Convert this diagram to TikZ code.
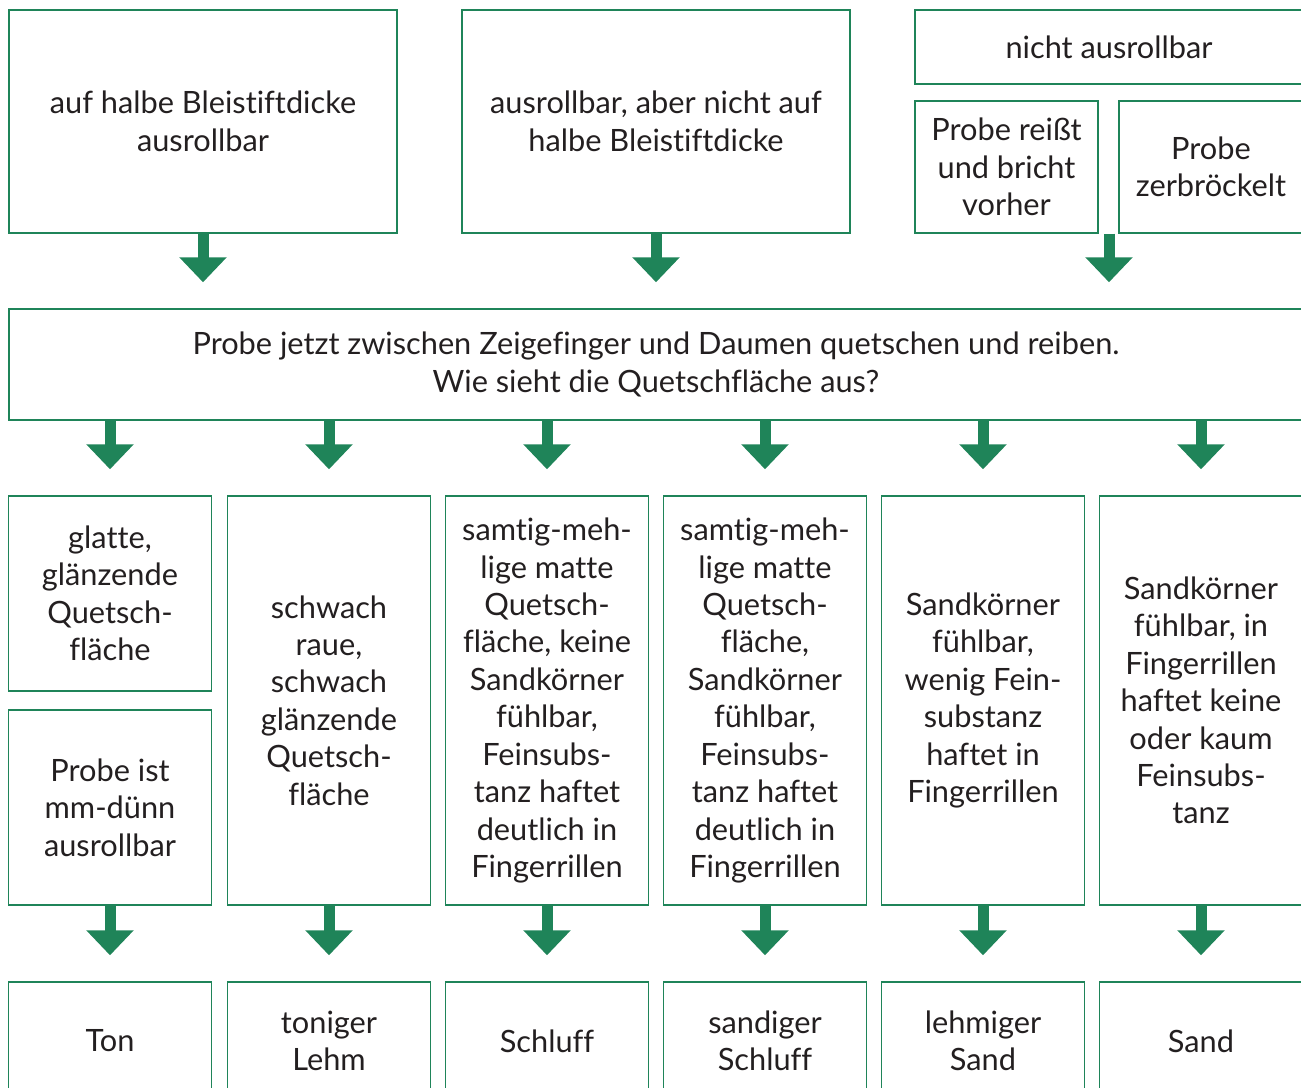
\documentclass[tikz,border=0pt]{standalone}
\usepackage{fontspec}
\setmainfont{Lato}[Ligatures=NoCommon]
\usetikzlibrary{arrows.meta}
\definecolor{soilgreen}{RGB}{31,132,89}
\definecolor{soiltext}{RGB}{35,31,32}
\tikzset{
  box/.style={rectangle, draw=soilgreen, line width=0.03cm, align=center, text=soiltext, inner sep=0pt, font=\fontsize{17.5}{21.3}\selectfont},
  bigarrow/.style={draw=soilgreen, line width=0.22cm, -{Triangle[width=0.92cm, length=0.5cm]}, shorten >=0.52cm}
}
\begin{document}
\begin{tikzpicture}[x=0.02cm, y=-0.02cm]
    \useasboundingbox (0,0) rectangle (1301,1088);
    \clip (0,0) rectangle (1301,1088);
    % first test
    \node (half) at (203, 121.5) [box, minimum width=7.76cm, minimum height=4.46cm] {auf halbe Bleistiftdicke\\ausrollbar};
    \node (notHalf) at (656, 121.5) [box, minimum width=7.76cm, minimum height=4.46cm] {ausrollbar, aber nicht auf\\halbe Bleistiftdicke};
    \node (noRoll) at (1109, 47) [box, minimum width=7.76cm, minimum height=1.48cm] {nicht ausrollbar};
    \node (tears) at (1006.5, 167) [box, minimum width=3.66cm, minimum height=2.64cm] {Probe reißt\\und bricht\\vorher};
    \node (crumbles) at (1211, 167) [box, minimum width=3.68cm, minimum height=2.64cm] {Probe\\zerbröckelt};
    % squeeze test
    \node (squeeze) at (656, 364.5) [box, minimum width=25.88cm, minimum height=2.22cm] {Probe jetzt zwischen Zeigefinger und Daumen quetschen und reiben.\\Wie sieht die Quetschfläche aus?};
    \node (smooth) at (110, 593.5) [box, minimum width=4.06cm, minimum height=3.9cm] {glatte,\\glänzende\\Quetsch-\\fläche};
    \node (thin) at (110, 807.5) [box, minimum width=4.06cm, minimum height=3.9cm] {Probe ist\\mm-dünn\\ausrollbar};
    \node (rough) at (329, 700.5) [box, minimum width=4.06cm, minimum height=8.18cm] {schwach\\raue,\\schwach\\glänzende\\Quetsch-\\fläche};
    \node (velvet) at (547, 700.5) [box, minimum width=4.06cm, minimum height=8.18cm] {samtig-meh-\\lige matte\\Quetsch-\\fläche, keine\\Sandkörner\\fühlbar,\\Feinsubs-\\tanz haftet\\deutlich in\\Fingerrillen};
    \node (velvetSand) at (765, 700.5) [box, minimum width=4.06cm, minimum height=8.18cm] {samtig-meh-\\lige matte\\Quetsch-\\fläche,\\Sandkörner\\fühlbar,\\Feinsubs-\\tanz haftet\\deutlich in\\Fingerrillen};
    \node (grains) at (983, 700.5) [box, minimum width=4.06cm, minimum height=8.18cm] {Sandkörner\\fühlbar,\\wenig Fein-\\substanz\\haftet in\\Fingerrillen};
    \node (grainsOnly) at (1201, 700.5) [box, minimum width=4.06cm, minimum height=8.18cm] {Sandkörner\\fühlbar, in\\Fingerrillen\\haftet keine\\oder kaum\\Feinsubs-\\tanz};
    % soil types
    \node (clay) at (110, 1041) [box, minimum width=4.06cm, minimum height=2.36cm] {Ton};
    \node (clayLoam) at (329, 1041) [box, minimum width=4.06cm, minimum height=2.36cm] {toniger\\Lehm};
    \node (silt) at (547, 1041) [box, minimum width=4.06cm, minimum height=2.36cm] {Schluff};
    \node (sandySilt) at (765, 1041) [box, minimum width=4.06cm, minimum height=2.36cm] {sandiger\\Schluff};
    \node (loamySand) at (983, 1041) [box, minimum width=4.06cm, minimum height=2.36cm] {lehmiger\\Sand};
    \node (sand) at (1201, 1041) [box, minimum width=4.06cm, minimum height=2.36cm] {Sand};
    % arrows
    \draw[bigarrow] (half.south) -- (half.south |- squeeze.north);
    \draw[bigarrow] (notHalf.south) -- (notHalf.south |- squeeze.north);
    \draw[bigarrow] (noRoll.center |- tears.south) -- (noRoll.center |- squeeze.north);
    \draw[bigarrow] (squeeze.south -| smooth.north) -- (smooth.north);
    \draw[bigarrow] (squeeze.south -| rough.north) -- (rough.north);
    \draw[bigarrow] (squeeze.south -| velvet.north) -- (velvet.north);
    \draw[bigarrow] (squeeze.south -| velvetSand.north) -- (velvetSand.north);
    \draw[bigarrow] (squeeze.south -| grains.north) -- (grains.north);
    \draw[bigarrow] (squeeze.south -| grainsOnly.north) -- (grainsOnly.north);
    \draw[bigarrow] (thin.south) -- (clay.north);
    \draw[bigarrow] (rough.south) -- (clayLoam.north);
    \draw[bigarrow] (velvet.south) -- (silt.north);
    \draw[bigarrow] (velvetSand.south) -- (sandySilt.north);
    \draw[bigarrow] (grains.south) -- (loamySand.north);
    \draw[bigarrow] (grainsOnly.south) -- (sand.north);
\end{tikzpicture}
\end{document}
